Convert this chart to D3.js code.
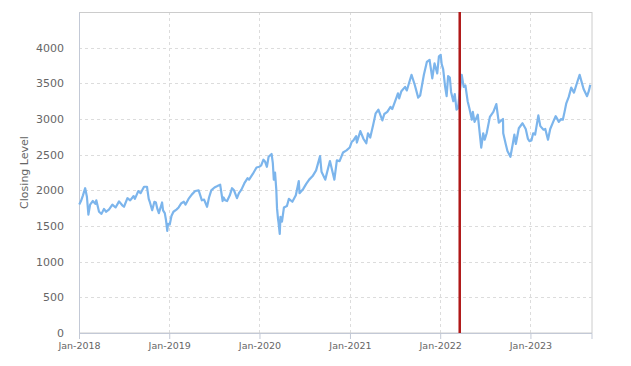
<!DOCTYPE html>
<html>
<head>
<meta charset="utf-8">
<script src="https://cdn.jsdelivr.net/npm/d3@7"></script>
<style>
  html, body { margin: 0; padding: 0; background: #fff; }
  svg { display: block; font-family: "DejaVu Sans", sans-serif; }
</style>
</head>
<body>
<svg id="chart" width="631" height="366"></svg>
<script>
// ---- data ----
const dates = [
  "2018-01-02","2018-01-09","2018-01-17","2018-01-26","2018-02-02","2018-02-08","2018-02-15","2018-02-26",
  "2018-03-08","2018-03-12","2018-03-23","2018-04-02","2018-04-12","2018-04-20","2018-05-02","2018-05-16",
  "2018-05-29","2018-06-12","2018-06-25","2018-07-02","2018-07-16","2018-07-27","2018-08-10","2018-08-15",
  "2018-08-29","2018-09-07","2018-09-21","2018-10-03","2018-10-10","2018-10-15","2018-10-24","2018-11-02",
  "2018-11-08","2018-11-14","2018-11-20","2018-12-03","2018-12-07","2018-12-14","2018-12-19","2018-12-24",
  "2018-12-27",
  "2019-01-03","2019-01-10","2019-01-18","2019-01-30","2019-02-08","2019-02-19","2019-03-01","2019-03-08",
  "2019-03-20","2019-04-02","2019-04-16","2019-04-30","2019-05-13","2019-05-22","2019-06-03","2019-06-11",
  "2019-06-20","2019-07-03","2019-07-15","2019-07-26","2019-08-05","2019-08-09","2019-08-15","2019-08-23",
  "2019-09-03","2019-09-12","2019-09-20","2019-10-02","2019-10-10","2019-10-20","2019-11-01","2019-11-14",
  "2019-11-20","2019-12-05","2019-12-20","2019-12-31",
  "2020-01-08","2020-01-17","2020-01-24","2020-01-31","2020-02-07","2020-02-19","2020-02-24","2020-02-28",
  "2020-03-04","2020-03-09","2020-03-12","2020-03-16","2020-03-18","2020-03-23","2020-03-26","2020-04-01",
  "2020-04-09","2020-04-21","2020-04-29","2020-05-13","2020-05-27","2020-06-08","2020-06-11","2020-06-26",
  "2020-07-08","2020-07-20","2020-08-03","2020-08-17","2020-09-02","2020-09-08","2020-09-23","2020-10-12",
  "2020-10-30","2020-11-09","2020-11-20","2020-12-04","2020-12-18","2020-12-31",
  "2021-01-08","2021-01-15","2021-01-26","2021-01-29","2021-02-12","2021-02-25","2021-03-08","2021-03-15",
  "2021-03-24","2021-04-05","2021-04-15","2021-04-26","2021-05-12","2021-05-20","2021-06-01","2021-06-14",
  "2021-06-21","2021-07-08","2021-07-14","2021-07-19","2021-07-28","2021-08-12","2021-08-19","2021-09-07",
  "2021-09-20","2021-10-04","2021-10-12","2021-10-27","2021-11-08","2021-11-19","2021-11-30","2021-12-09",
  "2021-12-20","2021-12-27",
  "2022-01-03","2022-01-07","2022-01-13","2022-01-21","2022-01-27","2022-02-02","2022-02-09","2022-02-14",
  "2022-02-23","2022-03-01","2022-03-08","2022-03-14","2022-03-29","2022-04-06","2022-04-13","2022-04-22",
  "2022-04-29","2022-05-09","2022-05-13","2022-05-20","2022-06-02","2022-06-16","2022-06-24","2022-06-30",
  "2022-07-08","2022-07-21","2022-08-04","2022-08-16","2022-08-26","2022-09-12","2022-09-13","2022-09-23",
  "2022-09-30","2022-10-12","2022-10-21","2022-10-28","2022-11-03","2022-11-15","2022-11-30","2022-12-13",
  "2022-12-22","2022-12-28",
  "2023-01-05","2023-01-12","2023-01-20","2023-02-02","2023-02-10","2023-02-23","2023-03-02","2023-03-13",
  "2023-03-22","2023-04-03","2023-04-13","2023-04-26","2023-05-05","2023-05-12","2023-05-19","2023-05-26",
  "2023-06-05","2023-06-15","2023-06-26","2023-07-06","2023-07-19","2023-07-27","2023-08-04","2023-08-18",
  "2023-08-25","2023-08-31"
];
const closes = [
  1800,1850,1930,2030,1910,1660,1800,1850,
  1810,1860,1700,1670,1740,1700,1730,1800,
  1760,1845,1790,1770,1890,1860,1920,1880,
  1990,1960,2050,2050,1880,1830,1720,1840,
  1830,1740,1680,1830,1720,1680,1580,1430,
  1530,
  1520,1640,1700,1730,1760,1820,1840,1800,
  1880,1940,1990,2000,1860,1870,1770,1900,
  2000,2040,2060,2080,1850,1900,1860,1850,
  1930,2030,2000,1890,1960,2010,2100,2170,
  2150,2230,2320,2330,
  2350,2430,2400,2330,2470,2510,2380,2150,
  2250,2010,1750,1600,1550,1390,1630,1560,
  1760,1780,1880,1840,1930,2130,1960,2020,
  2090,2150,2200,2280,2480,2260,2150,2410,
  2150,2420,2410,2530,2560,2600,
  2680,2700,2760,2670,2830,2720,2660,2800,
  2740,2920,3080,3130,2980,3070,3100,3170,
  3140,3300,3360,3290,3390,3450,3400,3620,
  3480,3300,3330,3620,3800,3830,3570,3780,
  3640,3880,
  3900,3770,3700,3450,3320,3600,3580,3380,
  3250,3350,3130,3150,3620,3450,3470,3250,
  3150,2990,3100,2960,3060,2600,2800,2710,
  2800,3030,3100,3210,2950,3000,2800,2650,
  2550,2470,2640,2780,2650,2870,2940,2860,
  2720,2690,
  2700,2800,2780,3050,2900,2850,2860,2710,
  2860,2960,3040,2960,3000,2990,3100,3220,
  3310,3440,3370,3480,3620,3520,3420,3320,
  3390,3480
];
const yTicks = [0,500,1000,1500,2000,2500,3000,3500,4000];
const xTickDates = ["2018-01-01","2019-01-01","2020-01-01","2021-01-01","2022-01-01","2023-01-01"];
const markerDate = "2022-03-21";
const xDomain = ["2018-01-01","2023-09-05"];
const yMax = 4500;
const yTitle = "Closing Level";

// ---- layout ----
const margin = {left: 79, right: 39.5, top: 12, bottom: 33};
const W = 631, H = 366;
const iw = W - margin.left - margin.right;
const ih = H - margin.top - margin.bottom;
const parse = d3.utcParse("%Y-%m-%d");
const data = dates.map((d, i) => ({date: parse(d), value: closes[i]}));

const svg = d3.select("#chart");
const g = svg.append("g").attr("transform", `translate(${margin.left},${margin.top})`);

const x = d3.scaleUtc().domain(xDomain.map(parse)).range([0, iw]);
const y = d3.scaleLinear().domain([0, yMax]).range([ih, 0]);

// grid
g.append("g").selectAll("line").data(yTicks.slice(1)).join("line")
  .attr("x1", 0).attr("x2", iw)
  .attr("y1", d => Math.round(y(d)) + 0.5).attr("y2", d => Math.round(y(d)) + 0.5)
  .attr("stroke", "#dcdcdc").attr("stroke-dasharray", "3,3");
g.append("g").selectAll("line").data(xTickDates.slice(1).map(parse)).join("line")
  .attr("y1", 0).attr("y2", ih)
  .attr("x1", d => Math.round(x(d)) + 0.5).attr("x2", d => Math.round(x(d)) + 0.5)
  .attr("stroke", "#dcdcdc").attr("stroke-dasharray", "3,3");

// frame (top/right)
g.append("rect").attr("x", 0.5).attr("y", 0.5).attr("width", iw).attr("height", ih - 0.5)
  .attr("fill", "none").attr("stroke", "#cccccc");

// y axis
const yAxis = d3.axisLeft(y).tickValues(yTicks).tickSize(0).tickPadding(15).tickFormat(d3.format("d"));
const ya = g.append("g").call(yAxis);
ya.select(".domain").attr("stroke", "#c3c9d6");
ya.selectAll("text").attr("fill", "#666").style("font-size", "11px").style("font-family", "DejaVu Sans, sans-serif");

// x axis
const xAxis = d3.axisBottom(x).tickValues(xTickDates.map(parse)).tickSize(6).tickPadding(3)
  .tickFormat(d3.utcFormat("%b-%Y"));
const xa = g.append("g").attr("transform", `translate(0,${ih})`).call(xAxis);
xa.select(".domain").attr("stroke", "#c3c9d6");
xa.selectAll(".tick line").attr("stroke", "#c3c9d6");
xa.selectAll("text").attr("fill", "#666").style("font-size", "9.5px").style("font-family", "DejaVu Sans, sans-serif");

// y title
svg.append("text")
  .attr("transform", `translate(28,${margin.top + ih / 2}) rotate(-90)`)
  .attr("text-anchor", "middle")
  .attr("fill", "#666")
  .style("font-size", "11px")
  .text(yTitle);

// line
const line = d3.line().x(d => x(d.date)).y(d => y(d.value)).curve(d3.curveLinear);
g.append("path").datum(data)
  .attr("fill", "none").attr("stroke", "#7cb5ec").attr("stroke-width", 2.2)
  .attr("stroke-linejoin", "round").attr("d", line);

// marker
const mx = x(parse(markerDate));
g.append("line").attr("x1", mx).attr("x2", mx).attr("y1", 0).attr("y2", ih)
  .attr("stroke", "#b01818").attr("stroke-width", 2.5);
</script>
</body>
</html>
